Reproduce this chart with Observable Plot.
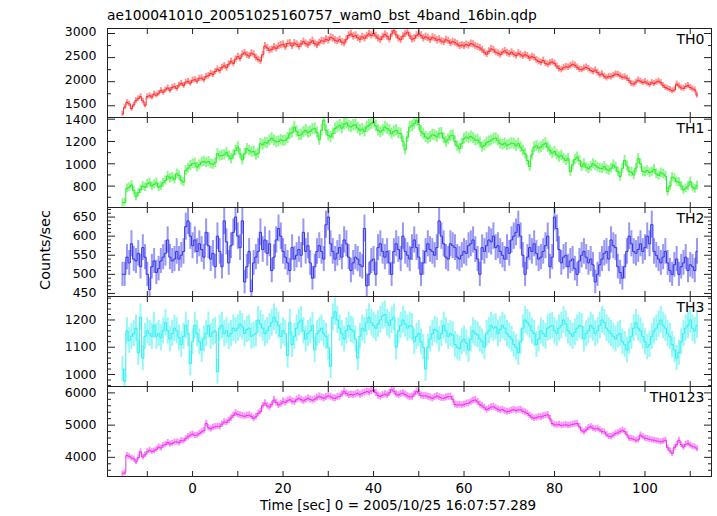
<!DOCTYPE html>
<html>
<head>
<meta charset="utf-8">
<script src="https://cdn.jsdelivr.net/npm/d3@7"></script>
<script src="https://cdn.jsdelivr.net/npm/@observablehq/plot@0.6"></script>
<style>
  html, body { margin: 0; padding: 0; background: #fff; }
  #chart { position: relative; width: 717px; height: 516px; font-family: "DejaVu Sans", sans-serif; color: #000; overflow: hidden; }
  .panel { position: absolute; left: 0; }
  .panel svg { overflow: visible; display: block; }
  #title { position: absolute; left: 107px; top: 7px; font-size: 13.8px; line-height: 16px; white-space: nowrap; }
  #xlabel { position: absolute; left: 398px; top: 497px; transform: translateX(-50%); font-size: 13.5px; line-height: 16px; white-space: nowrap; }
  #ylabel { position: absolute; left: 45px; top: 250px; transform: translate(-50%, -50%) rotate(-90deg); font-size: 14.5px; line-height: 16px; white-space: nowrap; }
</style>
</head>
<body>
<div id="chart">
  <div id="title">ae100041010_20051025160757_wam0_bst_4band_16bin.qdp</div>
  <div id="ylabel">Counts/sec</div>
  <div id="xlabel">Time [sec] 0 = 2005/10/25 16:07:57.289</div>
</div>
<script>
// ---- time bins ----
const tStart = -15.75;
const binWidth = 0.5;

// ---- series (counts/sec, one value per 0.5 s bin) ----
const th0 = [1330,1470,1570,1540,1440,1520,1610,1650,1690,1600,
1510,1690,1710,1680,1745,1720,1760,1815,1780,1830,
1870,1820,1880,1900,1860,1930,1965,1920,1990,2005,
1970,2030,2040,2010,2070,2075,2040,2110,2125,2170,
2150,2210,2260,2230,2295,2330,2290,2365,2420,2380,
2465,2520,2480,2570,2600,2555,2530,2590,2570,2500,
2460,2430,2560,2740,2700,2650,2670,2720,2690,2740,
2760,2775,2720,2790,2800,2740,2800,2775,2730,2780,
2830,2790,2760,2810,2850,2790,2760,2810,2850,2840,
2880,2860,2920,2900,2860,2840,2870,2820,2800,2880,
2960,2990,2940,2960,2910,2880,2930,2900,2950,2990,
2960,3000,2950,2900,2870,2930,2980,2940,2880,2990,
3060,2970,2900,2870,2940,2990,3030,2950,2880,2900,
2960,2990,2960,2900,2930,2910,2870,2920,2900,2860,
2880,2840,2820,2870,2850,2800,2830,2810,2780,2740,
2760,2740,2770,2750,2790,2775,2740,2720,2700,2660,
2610,2570,2630,2680,2660,2610,2590,2560,2610,2640,
2600,2570,2610,2570,2540,2590,2560,2530,2560,2535,
2490,2520,2500,2450,2420,2400,2440,2380,2360,2390,
2410,2380,2320,2270,2250,2290,2310,2300,2330,2360,
2340,2300,2260,2250,2280,2300,2270,2230,2210,2240,
2190,2140,2160,2110,2080,2110,2100,2130,2160,2150,
2120,2090,2100,2070,2020,1960,1950,1990,2030,2010,
1980,2000,1970,1940,1980,1960,1990,2010,1980,1920,
1880,1860,1840,1810,1830,1950,1910,1870,1860,1900,
1920,1880,1850,1830,1720];

const th1 = [650,655,780,790,810,760,705,740,770,800,
790,820,830,800,815,830,790,800,830,850,
890,870,880,860,910,895,850,835,940,960,
985,1000,1005,970,990,1015,1020,1010,1020,1000,
995,1010,1090,1070,1075,1080,1100,1070,1045,1080,
1120,1150,1090,1035,1090,1135,1120,1105,1110,1080,
1095,1180,1170,1190,1185,1210,1230,1210,1195,1200,
1215,1205,1210,1230,1270,1280,1330,1290,1255,1260,
1285,1300,1280,1290,1310,1315,1280,1215,1300,1390,
1300,1255,1240,1270,1315,1330,1345,1320,1355,1365,
1340,1330,1345,1350,1320,1300,1310,1290,1330,1345,
1360,1375,1340,1300,1285,1300,1330,1315,1300,1270,
1290,1300,1275,1270,1200,1125,1240,1330,1340,1360,
1390,1350,1290,1270,1240,1225,1240,1260,1255,1240,
1270,1275,1230,1195,1220,1250,1255,1200,1160,1135,
1180,1225,1240,1230,1245,1230,1210,1215,1190,1150,
1165,1190,1200,1210,1225,1230,1210,1180,1170,1185,
1165,1175,1185,1180,1160,1180,1150,1120,1090,1030,
975,1080,1150,1160,1140,1150,1170,1185,1150,1120,
1095,1110,1080,1060,1075,1050,1030,1045,930,990,
1040,1060,1030,975,1000,970,955,975,1000,985,
970,960,955,975,950,940,960,990,970,930,
885,960,1030,980,930,925,900,960,1045,1000,
930,925,940,920,930,950,910,895,920,910,
890,750,800,880,870,840,835,800,765,780,
800,840,790,775,805];

const th2 = [500,500,545,530,580,540,535,555,520,570,
545,500,460,520,535,505,515,535,545,555,
590,545,535,540,560,540,550,560,625,640,
600,575,590,560,580,565,545,610,575,540,
555,520,600,560,520,640,585,530,575,610,
650,600,570,640,480,520,560,455,530,545,
560,610,565,590,555,580,510,545,590,620,
600,560,545,530,510,570,540,550,565,550,
610,560,575,530,490,520,560,575,560,540,
630,650,580,560,540,555,570,545,590,580,
545,510,530,545,540,525,520,620,470,500,
535,540,500,570,580,560,545,560,530,500,
560,580,565,540,600,560,550,540,570,590,
570,545,500,530,560,580,565,560,550,570,
640,600,580,545,540,580,575,570,545,540,
550,560,555,575,580,590,565,540,500,570,
560,575,590,585,600,570,575,560,550,540,
570,555,590,600,610,630,600,550,500,545,
570,560,580,555,540,545,560,575,600,520,
545,650,620,565,530,545,550,520,535,540,
515,500,535,550,560,545,530,540,525,480,
500,525,540,555,560,540,590,575,570,520,
505,490,520,560,600,580,560,555,565,580,
560,570,600,580,630,560,550,540,530,545,
560,530,510,500,525,540,500,520,530,545,
510,525,520,510,560];

const th3 = [1020,975,1160,1125,1140,1150,1170,1080,1210,1060,
1140,1160,1150,1140,1180,1140,1150,1135,1160,1190,
1160,1130,1150,1170,1160,1135,1110,1140,1180,1150,
1040,1120,1180,1150,1120,1090,1130,1150,1180,1140,
1155,1160,1010,1170,1180,1150,1160,1140,1150,1170,
1160,1170,1185,1175,1150,1165,1170,1140,1145,1150,
1200,1185,1170,1150,1160,1175,1190,1210,1195,1180,
1140,1160,1150,1070,1190,1110,1140,1170,1190,1200,
1160,1130,1150,1160,1180,1090,1150,1160,1170,1150,
1140,1100,1030,1210,1230,1200,1170,1150,1130,1160,
1180,1165,1160,1130,1060,1140,1170,1160,1190,1210,
1190,1180,1170,1185,1200,1215,1220,1190,1180,1200,
1210,1100,1160,1180,1200,1185,1170,1180,1175,1120,
1140,1150,1120,1100,1020,1100,1130,1150,1165,1160,
1130,1150,1180,1160,1140,1150,1145,1110,1100,1095,
1120,1130,1115,1090,1130,1160,1150,1145,1130,1120,
1100,1150,1160,1180,1170,1175,1150,1165,1180,1170,
1150,1140,1130,1110,1100,1080,1120,1170,1200,1190,
1180,1160,1150,1110,1130,1160,1150,1140,1170,1175,
1180,1160,1150,1170,1180,1200,1185,1160,1150,1140,
1155,1170,1180,1175,1130,1150,1160,1180,1170,1150,
1160,1180,1200,1190,1170,1160,1150,1140,1130,1145,
1150,1120,1110,1090,1120,1140,1170,1190,1170,1160,
1140,1120,1100,1110,1140,1160,1170,1185,1200,1180,
1170,1150,1140,1110,1090,1060,1080,1120,1150,1170,
1180,1200,1170,1160,1180];

const th0123 = [3490,3520,4060,4030,3980,3950,3860,3990,4170,4010,
4080,4170,4220,4180,4200,4250,4320,4290,4370,4400,
4460,4410,4430,4470,4480,4450,4520,4510,4580,4640,
4690,4720,4680,4690,4740,4790,4830,5050,4920,4880,
4930,4950,4960,4950,5030,5100,5080,5150,5220,5300,
5370,5330,5310,5290,5270,5300,5310,5270,5210,5260,
5360,5420,5600,5680,5600,5560,5640,5780,5700,5620,
5660,5730,5700,5760,5790,5740,5720,5790,5830,5790,
5750,5790,5830,5800,5770,5800,5850,5890,5860,5830,
5870,5910,5880,5840,5830,5870,5890,5960,6040,5980,
5930,5950,5930,5960,5990,5940,5980,6010,6040,6020,
6060,6090,6000,5920,5890,5930,5960,5930,6000,6100,
6050,5960,5930,5970,5990,5950,5900,5870,5880,5960,
6040,5990,5920,5900,5910,5880,5860,5830,5870,5900,
5870,5840,5830,5860,5880,5885,5800,5640,5620,5630,
5620,5640,5670,5680,5720,5760,5780,5720,5640,5600,
5540,5480,5520,5560,5570,5530,5490,5460,5480,5440,
5410,5430,5460,5480,5450,5470,5480,5430,5400,5360,
5300,5240,5210,5230,5260,5250,5280,5300,5320,5200,
5050,5010,5000,5020,4990,5000,5010,4990,5000,5020,
5040,5050,4950,4830,4790,4850,4920,4950,4900,4880,
4900,4850,4800,4790,4700,4650,4640,4690,4740,4760,
4800,4840,4800,4700,4590,4580,4560,4530,4540,4690,
4640,4590,4580,4560,4540,4530,4510,4500,4480,4500,
4530,4300,4200,4120,4300,4400,4530,4400,4320,4400,
4430,4380,4330,4320,4270];

// ---- labels and tick values ----
const panelLabels = ["TH0", "TH1", "TH2", "TH3", "TH0123"];
const th0Ticks = [1500, 2000, 2500, 3000];
const th1Ticks = [800, 1000, 1200, 1400];
const th2Ticks = [450, 500, 550, 600, 650];
const th3Ticks = [1000, 1100, 1200];
const th0123Ticks = [4000, 5000, 6000];
const xTickLabels = [0, 20, 40, 60, 80, 100];

// ---- layout / style options ----
const xDomain = [-18.8, 114.7];
const xTickStep = 10;
const panels = [
  {label: panelLabels[0], values: th0, ticks: th0Ticks, minor: 250, domain: [1257, 3104], color: "#ff2a2a", labelDy: -1.5},
  {label: panelLabels[1], values: th1, ticks: th1Ticks, minor: 100, domain: [608, 1415], color: "#22ee22", labelDy: 1},
  {label: panelLabels[2], values: th2, ticks: th2Ticks, minor: 10, domain: [442, 675], color: "#3232ee", labelDy: 0},
  {label: panelLabels[3], values: th3, ticks: th3Ticks, minor: 20, domain: [956, 1286], color: "#2ef0f0", labelDy: 0},
  {label: panelLabels[4], values: th0123, ticks: th0123Ticks, minor: 200, domain: [3406, 6198], color: "#f22ef2", labelDy: 0}
];
const frameTops = [28, 117, 207, 296, 386];
const frameBottomLast = 476;
const frameColor = "#222";

const chart = document.getElementById("chart");
const xTicks = d3.range(Math.ceil(xDomain[0] / xTickStep) * xTickStep, xDomain[1], xTickStep);

panels.forEach((p, k) => {
  const top = frameTops[k];
  const bottom = k < panels.length - 1 ? frameTops[k + 1] : frameBottomLast;
  const mt = 14;
  const mb = k === panels.length - 1 ? 40 : 14;
  const data = p.values.map((v, i) => ({t: tStart + binWidth * (i + 0.5), v, e: Math.sqrt(v / binWidth)}));
  const minorTicks = d3.range(Math.ceil(p.domain[0] / p.minor) * p.minor, p.domain[1], p.minor)
    .filter(v => !p.ticks.includes(v));
  const blank = () => "";
  const marks = [
    Plot.ruleX(data, {x: "t", y1: d => d.v - d.e, y2: d => d.v + d.e, stroke: p.color, strokeOpacity: 0.5, strokeWidth: 2, clip: true}),
    Plot.line(data, {x: "t", y: "v", curve: "step", stroke: p.color, strokeWidth: 1, clip: true}),
    // inward ticks, all four sides
    Plot.axisY(p.ticks, {anchor: "left", tickSize: 8, dx: 8, tickFormat: blank, stroke: frameColor, label: null}),
    Plot.axisY(p.ticks, {anchor: "right", tickSize: 8, dx: -8, tickFormat: blank, stroke: frameColor, label: null}),
    Plot.axisY(minorTicks, {anchor: "left", tickSize: 4, dx: 4, tickFormat: blank, stroke: frameColor, label: null}),
    Plot.axisY(minorTicks, {anchor: "right", tickSize: 4, dx: -4, tickFormat: blank, stroke: frameColor, label: null}),
    Plot.axisX(xTicks, {anchor: "top", tickSize: 5, dy: 5, tickFormat: blank, stroke: frameColor, label: null}),
    Plot.axisX(xTicks, {anchor: "bottom", tickSize: 5, dy: -5, tickFormat: blank, stroke: frameColor, label: null}),
    // y tick labels
    Plot.axisY(p.ticks, {anchor: "left", tickSize: 0, tickPadding: 11, dy: p.labelDy, tickFormat: d => String(d), label: null, fill: "#000", fontSize: 12.5}),
    Plot.frame({stroke: frameColor, strokeWidth: 1}),
    Plot.text([p.label], {text: d => d, frameAnchor: "top-right", dx: -7, dy: 6, textAnchor: "end", lineAnchor: "top", fontSize: 14, fill: "#000"})
  ];
  if (k === panels.length - 1) {
    marks.push(Plot.axisX(xTickLabels, {anchor: "bottom", tickSize: 0, tickPadding: 7, tickFormat: d => String(d), label: null, fill: "#000", fontSize: 13.5}));
  }
  const svg = Plot.plot({
    width: 717,
    height: (bottom - top) + mt + mb,
    marginLeft: 107,
    marginRight: 6,
    marginTop: mt,
    marginBottom: mb,
    x: {domain: xDomain},
    y: {domain: p.domain},
    style: {fontFamily: "DejaVu Sans, sans-serif", fontSize: "13.5px", color: "#000", background: "transparent", overflow: "visible"},
    marks
  });
  const div = document.createElement("div");
  div.className = "panel";
  div.style.top = (top - mt) + "px";
  div.appendChild(svg);
  chart.appendChild(div);
});
</script>
</body>
</html>
